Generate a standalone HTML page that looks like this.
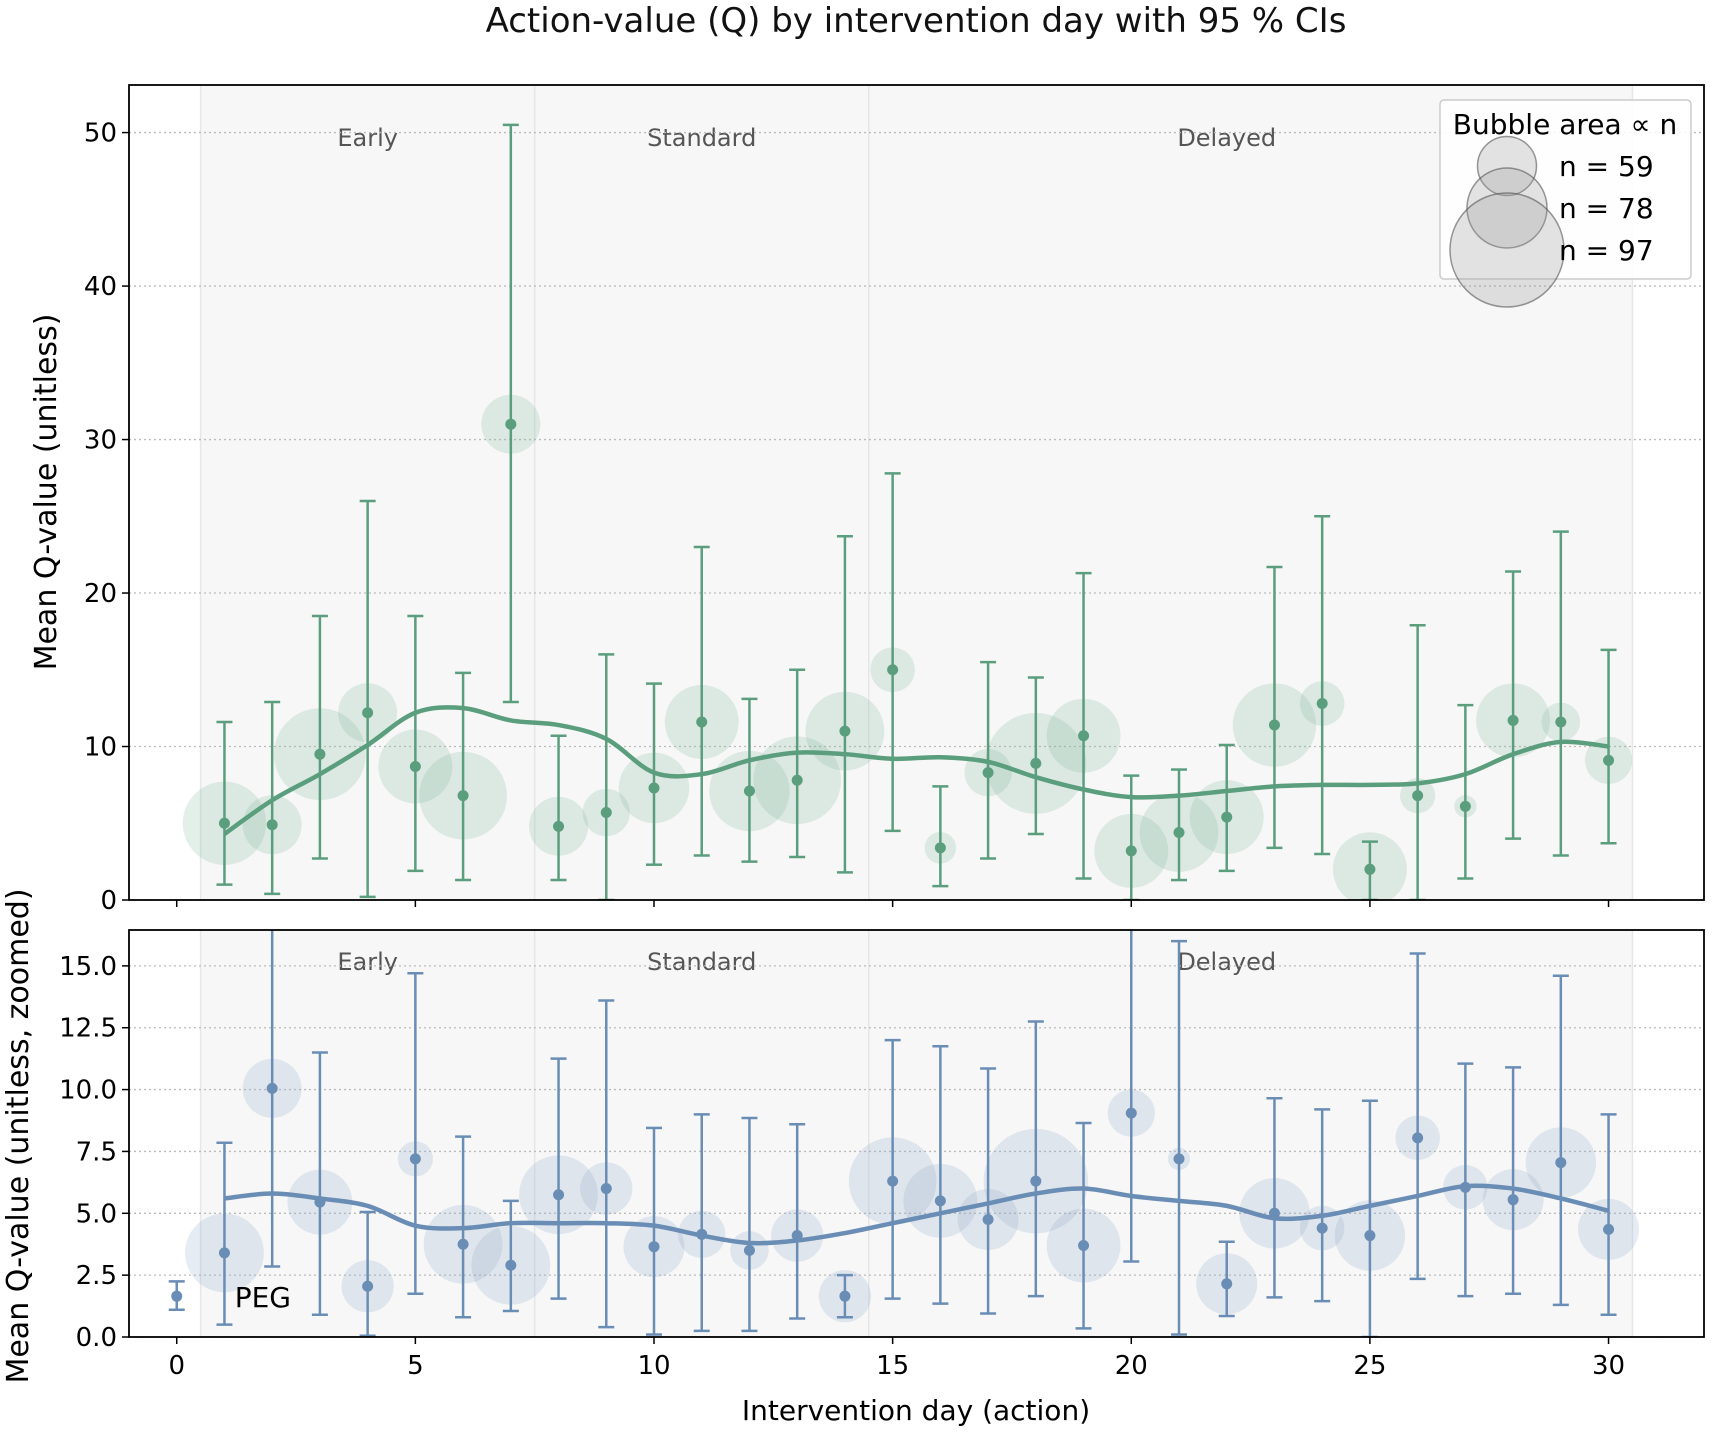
<!DOCTYPE html>
<html><head><meta charset="utf-8"><style>
body{margin:0;background:#fff}
svg{display:block;font-family:"DejaVu Sans","Liberation Sans",sans-serif}
</style></head><body>
<svg id="chart" width="1713" height="1432" viewBox="0 0 1713 1432" xmlns="http://www.w3.org/2000/svg">
<rect width="1713" height="1432" fill="#fff"/>
<text x="916" y="32" text-anchor="middle" font-size="34" fill="#111">Action-value (Q) by intervention day with 95 % CIs</text>
<g id="top"></g><g id="bot"></g>
<text x="916" y="1420" text-anchor="middle" font-size="28">Intervention day (action)</text>
<text transform="translate(56,492) rotate(-90)" text-anchor="middle" font-size="30">Mean Q-value (unitless)</text>
<text transform="translate(28,1136) rotate(-90)" text-anchor="middle" font-size="30">Mean Q-value (unitless, zoomed)</text>
</svg>
<script>
const days=[1,2,3,4,5,6,7,8,9,10,11,12,13,14,15,16,17,18,19,20,21,22,23,24,25,26,27,28,29,30];
const topMean=[5.0,4.9,9.5,12.2,8.7,6.8,31.0,4.8,5.7,7.3,11.6,7.1,7.8,11.0,15.0,3.4,8.3,8.9,10.7,3.2,4.4,5.4,11.4,12.8,2.0,6.8,6.1,11.7,11.6,9.1];
const topLo=[1.0,0.4,2.7,0.2,1.9,1.3,12.9,1.3,0,2.3,2.9,2.5,2.8,1.8,4.5,0.9,2.7,4.3,1.4,0,1.3,1.9,3.4,3.0,0,0,1.4,4.0,2.9,3.7];
const topHi=[11.6,12.9,18.5,26.0,18.5,14.8,50.5,10.7,16.0,14.1,23.0,13.1,15.0,23.7,27.8,7.4,15.5,14.5,21.3,8.1,8.5,10.1,21.7,25.0,3.8,17.9,12.7,21.4,24.0,16.3];
const topN=[73,59,79,59,67,76,59,59,54,65,67,71,76,70,53,49,54,86,67,67,70,67,73,53,67,50,47,67,51,54];
const topSmooth=[4.3,6.5,8.2,10.1,12.2,12.5,11.7,11.4,10.5,8.3,8.2,9.1,9.6,9.5,9.2,9.3,9.0,8.0,7.2,6.7,6.8,7.1,7.4,7.5,7.5,7.6,8.2,9.5,10.3,10.0];
const botMean=[3.4,10.05,5.45,2.05,7.2,3.75,2.9,5.75,6.0,3.65,4.15,3.5,4.1,1.65,6.3,5.5,4.75,6.3,3.7,9.05,7.2,2.15,5.0,4.4,4.1,8.05,6.05,5.55,7.05,4.35];
const botLo=[0.5,2.85,0.9,0.05,1.75,0.8,1.05,1.55,0.4,0.1,0.25,0.25,0.75,0.8,1.55,1.35,0.95,1.65,0.35,3.05,0.1,0.85,1.6,1.45,0,2.35,1.65,1.75,1.3,0.9];
const botHi=[7.85,17.5,11.5,5.05,14.7,8.1,5.5,11.25,13.6,8.45,9.0,8.85,8.6,2.5,12.0,11.75,10.85,12.75,8.65,17.5,16.0,3.85,9.65,9.2,9.55,15.5,11.05,10.9,14.6,9.0];
const botN=[70,59,62,56,50,70,70,70,56,60,54,51,56,56,76,67,60,89,67,54,47,60,65,53,65,53,53,60,65,60];
const botSmooth=[5.6,5.8,5.6,5.3,4.5,4.4,4.6,4.6,4.6,4.5,4.1,3.8,3.9,4.2,4.6,5.0,5.4,5.8,6.0,5.7,5.5,5.3,4.8,4.9,5.3,5.7,6.1,6.0,5.6,5.1];
const pegDay=[0], pegMean=[1.65], pegLo=[1.1], pegHi=[2.25];
const xTicks=[0,5,10,15,20,25,30];
const topTicks=[0,10,20,30,40,50], topTickLabels=["0","10","20","30","40","50"];
const botTicks=[0,2.5,5,7.5,10,12.5,15], botTickLabels=["0.0","2.5","5.0","7.5","10.0","12.5","15.0"];
const regions=[["Early",0.5,7.5,4],["Standard",7.5,14.5,11],["Delayed",14.5,30.5,22]];
const legendN=[59,78,97];

const NS="http://www.w3.org/2000/svg";
const L=129,R=1704;
const X=v=>L+(v+1)/33*(R-L);
function rad(n){return 1.0925*Math.sqrt(Math.max(0,52*(n-45)));}
function mk(p,t,a){const e=document.createElementNS(NS,t);for(const k in a)e.setAttribute(k,a[k]);p.appendChild(e);return e;}
function panel(g,id,T,B,ymax,ticks,tlabels,mean,lo,hi,ns,smooth,col,fill,showX,labOff){
  const Y=v=>B-v/ymax*(B-T);
  const cp=mk(g,'clipPath',{id:'clip'+id});mk(cp,'rect',{x:L,y:T,width:R-L,height:B-T});
  const bg=mk(g,'g',{'clip-path':'url(#clip'+id+')'});
  regions.forEach(r=>{
    const e=mk(bg,'rect',{x:X(r[1]),y:T,width:X(r[2])-X(r[1]),height:B-T,fill:'#f7f7f7',stroke:'#e6e6e6','stroke-width':1.5});
    
    
  });
  regions.forEach(r=>{
    const t=mk(bg,'text',{x:X(r[3]),y:T+labOff,'text-anchor':'middle','font-size':24,fill:'#555'});
    t.textContent=r[0];
    
    
  });
  ticks.forEach((v,i)=>{
    mk(bg,'line',{x1:L,x2:R,y1:Y(v),y2:Y(v),stroke:'#bbb','stroke-width':1.3,'stroke-dasharray':'2,3'});
    mk(g,'line',{x1:L-7,x2:L,y1:Y(v),y2:Y(v),stroke:'#000','stroke-width':1.5});
    const t=mk(g,'text',{x:L-12,y:Y(v)+9,'text-anchor':'end','font-size':26});
    t.textContent=tlabels[i];
    
    
  });
  days.forEach((d,i)=>{
    const c=mk(bg,'circle',{cx:X(d),cy:Y(mean[i]),r:rad(ns[i]),fill:fill,'fill-opacity':0.22});
    
    
  });
  days.forEach((d,i)=>{
    const x=X(d),eg=mk(bg,'g',{stroke:col,'stroke-width':2.5});
    
    
    mk(eg,'line',{x1:x,x2:x,y1:Y(lo[i]),y2:Y(hi[i])});
    mk(eg,'line',{x1:x-8,x2:x+8,y1:Y(lo[i]),y2:Y(lo[i])});
    mk(eg,'line',{x1:x-8,x2:x+8,y1:Y(hi[i]),y2:Y(hi[i])});
  });
  const P=days.map((d,i)=>[X(d),Y(smooth[i])]);
  let dstr='M'+P[0][0]+','+P[0][1];
  for(let i=0;i<P.length-1;i++){const p0=P[Math.max(0,i-1)],p1=P[i],p2=P[i+1],p3=P[Math.min(P.length-1,i+2)];
    dstr+=' C'+(p1[0]+(p2[0]-p0[0])/6)+','+(p1[1]+(p2[1]-p0[1])/6)+' '+(p2[0]-(p3[0]-p1[0])/6)+','+(p2[1]-(p3[1]-p1[1])/6)+' '+p2[0]+','+p2[1];}
  const sm=mk(bg,'path',{d:dstr,fill:'none',stroke:col,'stroke-width':4.5});
  
  
  days.forEach((d,i)=>{
    const c=mk(bg,'circle',{cx:X(d),cy:Y(mean[i]),r:5.5,fill:col});
    
    
  });
  xTicks.forEach(v=>{
    mk(g,'line',{x1:X(v),x2:X(v),y1:B,y2:B+7,stroke:'#000','stroke-width':1.5});
    if(showX){const t=mk(g,'text',{x:X(v),y:B+37,'text-anchor':'middle','font-size':26});t.textContent=v;
      
      }
  });
  const fr=mk(g,'rect',{x:L,y:T,width:R-L,height:B-T,fill:'none',stroke:'#000','stroke-width':1.8});
  
  
  return {Y,bg};
}
const gt=document.getElementById('top'),gb=document.getElementById('bot');


panel(gt,'t',85,900,53.1,topTicks,topTickLabels,topMean,topLo,topHi,topN,topSmooth,'#5a9e7e','#7fb89a',false,61);
const b=panel(gb,'b',930,1337,16.45,botTicks,botTickLabels,botMean,botLo,botHi,botN,botSmooth,'#6a8db5','#8ea8c8',true,40);
pegDay.forEach((d,i)=>{
  const x=X(d),Y=b.Y,pg=mk(b.bg,'g',{stroke:'#6a8db5','stroke-width':2.5});
  
  
  mk(pg,'line',{x1:x,x2:x,y1:Y(pegLo[i]),y2:Y(pegHi[i])});
  mk(pg,'line',{x1:x-8,x2:x+8,y1:Y(pegLo[i]),y2:Y(pegLo[i])});
  mk(pg,'line',{x1:x-8,x2:x+8,y1:Y(pegHi[i]),y2:Y(pegHi[i])});
  const c=mk(b.bg,'circle',{cx:x,cy:Y(pegMean[i]),r:5.5,fill:'#6a8db5'});
  
  
  const t=mk(b.bg,'text',{x:x+58,y:Y(pegMean[i])+11,'font-size':28});
  t.textContent='PEG';
  
  
});
const lg=mk(gt,'g',{});


mk(lg,'rect',{x:1440,y:100,width:251,height:179,rx:4,fill:'#fff','fill-opacity':0.85,stroke:'#ccc','stroke-width':1.5});
const lt=mk(lg,'text',{x:1565,y:134,'text-anchor':'middle','font-size':28});lt.textContent='Bubble area ∝ n';
const lys=[166,208,250];
legendN.forEach((n,i)=>{
  const r=[29.5,40,57][i];
  const c=mk(lg,'circle',{cx:1507,cy:lys[i],r:r,fill:'#999','fill-opacity':0.28,stroke:'#555','stroke-opacity':0.6,'stroke-width':1.5});
  
  
  const t=mk(lg,'text',{x:1559,y:lys[i]+10,'font-size':28});t.textContent='n = '+n;
  
  
});
</script>
</body></html>
